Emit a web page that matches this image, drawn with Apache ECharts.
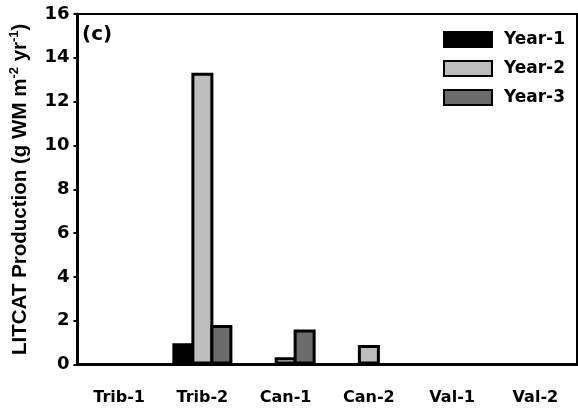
<!DOCTYPE html>
<html>
<head>
<meta charset="utf-8">
<script src="https://cdn.jsdelivr.net/npm/echarts@6/dist/echarts.min.js"></script>
<style>
  html, body { margin: 0; padding: 0; background: #fff; }
  #chart { width: 578px; height: 409px; }
</style>
</head>
<body>
<div id="chart"></div>
<script>
// Sites along the stream network
const sites = ['Trib-1', 'Trib-2', 'Can-1', 'Can-2', 'Val-1', 'Val-2'];

// Litter-catch production, g wet mass per m2 per year
const year1 = [0, 0.97, 0, 0, 0, 0];
const year2 = [0, 13.32, 0.33, 0.89, 0, 0];
const year3 = [0, 1.8, 1.6, 0, 0, 0];

const yTicks = { min: 0, max: 16, interval: 2 };

const tickFont = 'DejaVu Sans';
const chart = echarts.init(document.getElementById('chart'), null, { renderer: 'canvas' });

function barSeries(name, data, color) {
  return {
    name: name,
    type: 'bar',
    data: data,
    barWidth: 22,
    barGap: '-13.6%',
    itemStyle: { color: color, borderColor: '#000', borderWidth: 3 },
    emphasis: { disabled: true }
  };
}

chart.setOption({
  animation: false,
  backgroundColor: '#fff',
  grid: {
    left: 77.5, right: 1, top: 14, bottom: 44.5,
    outerBoundsMode: 'none',
    containLabel: false,
    show: true, borderColor: '#000', borderWidth: 2
  },
  legend: {
    orient: 'vertical',
    right: 8,
    top: 26,
    icon: 'rect',
    itemWidth: 48,
    itemHeight: 15,
    itemGap: 12,
    align: 'left',
    textStyle: {
      fontFamily: tickFont, fontWeight: 'bold', fontSize: 17, color: '#000',
      padding: [0, 0, 0, 7]
    },
    data: ['Year-1', 'Year-2', 'Year-3']
  },
  xAxis: {
    type: 'category',
    data: sites,
    axisLine: { lineStyle: { color: '#000', width: 3 } },
    axisTick: { alignWithLabel: true, length: 5, lineStyle: { color: '#000', width: 2 } },
    axisLabel: {
      margin: 25,
      fontFamily: tickFont, fontWeight: 'bold', fontSize: 16, color: '#000'
    },
    splitLine: { show: false }
  },
  yAxis: {
    type: 'value',
    min: yTicks.min, max: yTicks.max, interval: yTicks.interval,
    axisLine: { show: true, lineStyle: { color: '#000', width: 3 } },
    axisTick: { show: true, length: 4, lineStyle: { color: '#000', width: 2 } },
    axisLabel: {
      margin: 8,
      fontFamily: tickFont, fontWeight: 'bold', fontSize: 18, color: '#000'
    },
    splitLine: { show: false },
    name: 'LITCAT Production (g WM m{sup|-2} yr{sup|-1})',
    nameLocation: 'middle',
    nameRotate: 90,
    nameGap: 40,
    nameTextStyle: {
      fontFamily: 'Liberation Sans', fontWeight: 'bold', fontSize: 20.5, color: '#000',
      lineHeight: 26,
      rich: {
        sup: {
          fontFamily: 'Liberation Sans', fontWeight: 'bold', fontSize: 13, color: '#000',
          verticalAlign: 'top', lineHeight: 13
        }
      }
    }
  },
  graphic: [{
    type: 'text',
    left: 82,
    top: 25,
    style: {
      text: '(c)',
      font: 'bold 20px "DejaVu Sans"',
      fill: '#000'
    }
  }],
  series: [
    barSeries('Year-1', year1, '#000000'),
    barSeries('Year-2', year2, '#bdbdbd'),
    barSeries('Year-3', year3, '#6c6c6c')
  ]
});
</script>
</body>
</html>
